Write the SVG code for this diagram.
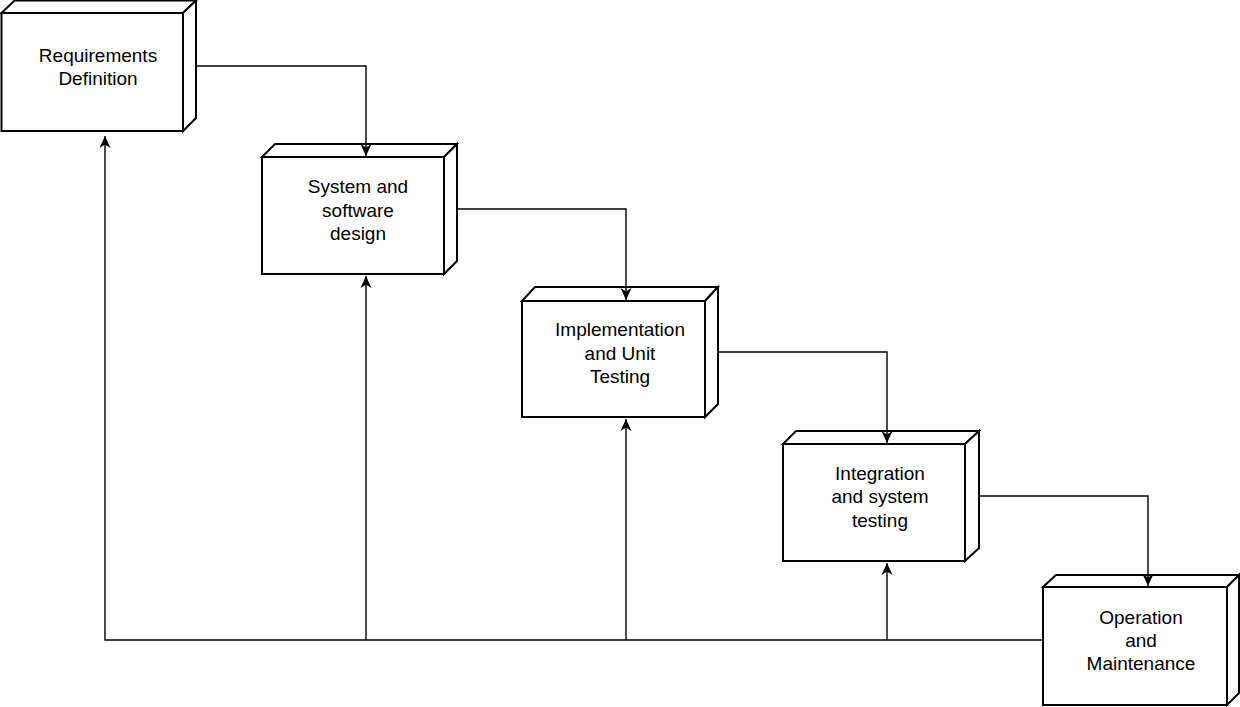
<svg xmlns="http://www.w3.org/2000/svg" width="1240" height="707" viewBox="0 0 1240 707">
<style>
.box{fill:#fff;stroke:#000;stroke-width:2;stroke-linejoin:miter}
.lbl{font-family:"Liberation Sans",Arial,sans-serif;font-size:19px;fill:#000;text-anchor:middle}
.conn{fill:none;stroke:#000;stroke-width:1.4}
</style>
<defs>
<marker id="arr" markerUnits="userSpaceOnUse" markerWidth="14" markerHeight="14" viewBox="0 0 14 14" refX="12" refY="7" orient="auto">
<path d="M0,1.5 L12,7 L0,12.5 L3.5,7 z" fill="#000"/>
</marker>
</defs>
<rect width="1240" height="707" fill="#fff"/>
<g id="n1">
<path class="box" d="M1.5,13 L14.5,0.5 L196,0.5 L183,13 Z"/>
<path class="box" d="M183,13 L196,0.5 L196,118 L183,131 Z"/>
<rect class="box" x="1.5" y="13" width="181.5" height="118"/>
<text class="lbl" x="98" y="62">Requirements</text>
<text class="lbl" x="98" y="85">Definition</text>
</g>
<g id="n2">
<path class="box" d="M262,157 L275,144 L457,144 L444,157 Z"/>
<path class="box" d="M444,157 L457,144 L457,261 L444,274 Z"/>
<rect class="box" x="262" y="157" width="182" height="117"/>
<text class="lbl" x="358" y="193">System and</text>
<text class="lbl" x="358" y="216.5">software</text>
<text class="lbl" x="358" y="240">design</text>
</g>
<g id="n3">
<path class="box" d="M522,301 L535,287 L718,287 L705,301 Z"/>
<path class="box" d="M705,301 L718,287 L718,404 L705,417 Z"/>
<rect class="box" x="522" y="301" width="183" height="116"/>
<text class="lbl" x="620" y="336">Implementation</text>
<text class="lbl" x="620" y="359.5">and Unit</text>
<text class="lbl" x="620" y="383">Testing</text>
</g>
<g id="n4">
<path class="box" d="M783,444 L796,431 L979,431 L965,444 Z"/>
<path class="box" d="M965,444 L979,431 L979,548 L965,561 Z"/>
<rect class="box" x="783" y="444" width="182" height="117"/>
<text class="lbl" x="880" y="480">Integration</text>
<text class="lbl" x="880" y="503">and system</text>
<text class="lbl" x="880" y="526.5">testing</text>
</g>
<g id="n5">
<path class="box" d="M1043,587 L1056,575 L1239,575 L1227,587 Z"/>
<path class="box" d="M1227,587 L1239,575 L1239,693 L1227,705 Z"/>
<rect class="box" x="1043" y="587" width="184" height="118"/>
<text class="lbl" x="1141" y="624">Operation</text>
<text class="lbl" x="1141" y="647">and</text>
<text class="lbl" x="1141" y="670">Maintenance</text>
</g>
<g id="connectors">
<path class="conn" d="M196,66 H366 V156" marker-end="url(#arr)"/>
<path class="conn" d="M457,209 H626 V300" marker-end="url(#arr)"/>
<path class="conn" d="M718,352 H887 V443" marker-end="url(#arr)"/>
<path class="conn" d="M979,496 H1148 V586" marker-end="url(#arr)"/>
<path class="conn" d="M1043,640 H105 V136" marker-end="url(#arr)"/>
<path class="conn" d="M366,640 V276" marker-end="url(#arr)"/>
<path class="conn" d="M626,640 V419" marker-end="url(#arr)"/>
<path class="conn" d="M887,640 V563" marker-end="url(#arr)"/>
</g>
</svg>
